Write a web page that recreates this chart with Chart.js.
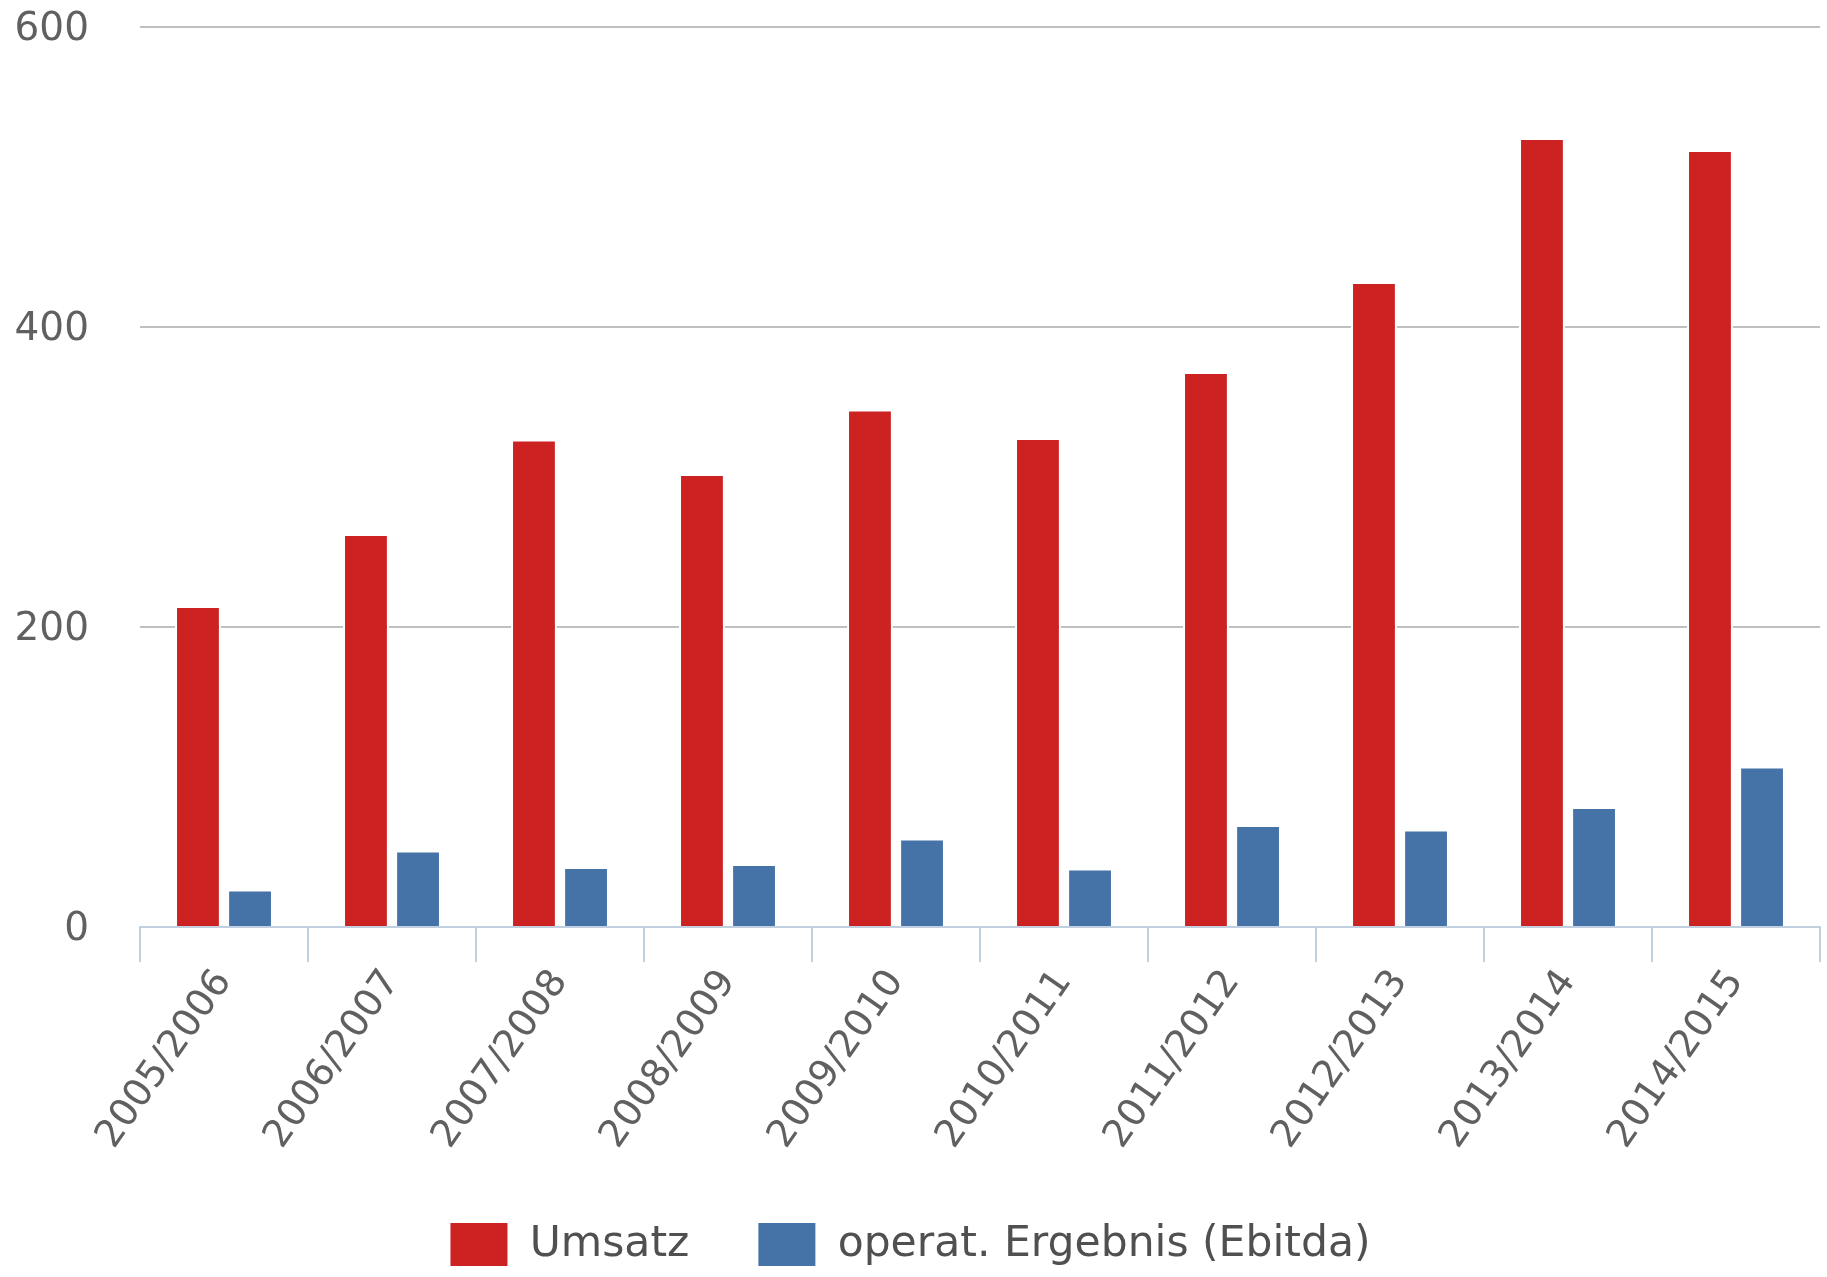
<!DOCTYPE html>
<html><head><meta charset="utf-8">
<script src="https://cdn.jsdelivr.net/npm/chart.js@4"></script>
<style>html,body{margin:0;padding:0;background:#fff}#wrap{width:1827px;height:1277px}</style>
</head><body><div id="wrap"><canvas id="c" width="1827" height="1277"></canvas></div>
<script>
const categories = ['2005/2006','2006/2007','2007/2008','2008/2009','2009/2010','2010/2011','2011/2012','2012/2013','2013/2014','2014/2015'];
const umsatz = [214, 262, 325, 302, 345, 326, 370, 430, 526, 518];
const ebitda = [25, 51, 40, 42, 59, 39, 68, 65, 80, 107];
const yTicks = [0, 200, 400, 600];
const seriesNames = ['Umsatz', 'operat. Ergebnis (Ebitda)'];
const seriesColors = ['#CC2222', '#4572A7'];

const FONT = 'DejaVu Sans';
function zeroPad(s) { s.paddingTop = 0; s.paddingBottom = 0; s.paddingLeft = 0; s.paddingRight = 0; }
new Chart(document.getElementById('c').getContext('2d'), {
  type: 'bar',
  data: {
    labels: categories,
    datasets: [
      {label: seriesNames[0], data: umsatz, backgroundColor: seriesColors[0], borderColor: '#ffffff', borderWidth: 2, borderSkipped: 'start'},
      {label: seriesNames[1], data: ebitda, backgroundColor: seriesColors[1], borderColor: '#ffffff', borderWidth: 2, borderSkipped: 'start'}
    ]
  },
  options: {
    responsive: false,
    animation: false,
    devicePixelRatio: 1,
    layout: {padding: {top: 27, right: 7, bottom: 0, left: 0}},
    datasets: {bar: {categoryPercentage: 0.62, barPercentage: 0.88}},
    plugins: {
      legend: {
        position: 'bottom',
        labels: {boxWidth: 59, boxHeight: 45, padding: 68, color: '#505050', font: {family: FONT, size: 42.5}}
      },
      tooltip: {enabled: false}
    },
    scales: {
      x: {
        grid: {offset: true, drawOnChartArea: false, drawTicks: true, tickLength: 35, color: '#C0D0E0', lineWidth: 2},
        border: {color: '#C0D0E0', width: 2},
        ticks: {minRotation: 55, maxRotation: 55, padding: 0, autoSkip: false, color: '#606060', font: {family: FONT, size: 38}},
        afterFit(s) { s.height = 227; zeroPad(s); }
      },
      y: {
        min: 0, max: 600,
        afterBuildTicks(s) { s.ticks = yTicks.map(v => ({value: v})); },
        grid: {color: '#C0C0C0', lineWidth: 2, drawTicks: false},
        border: {display: false},
        ticks: {padding: 51, labelOffset: 3, color: '#606060', font: {family: FONT, size: 39}},
        afterFit(s) { s.width = 140; zeroPad(s); }
      }
    }
  }
});
</script>
</body></html>
